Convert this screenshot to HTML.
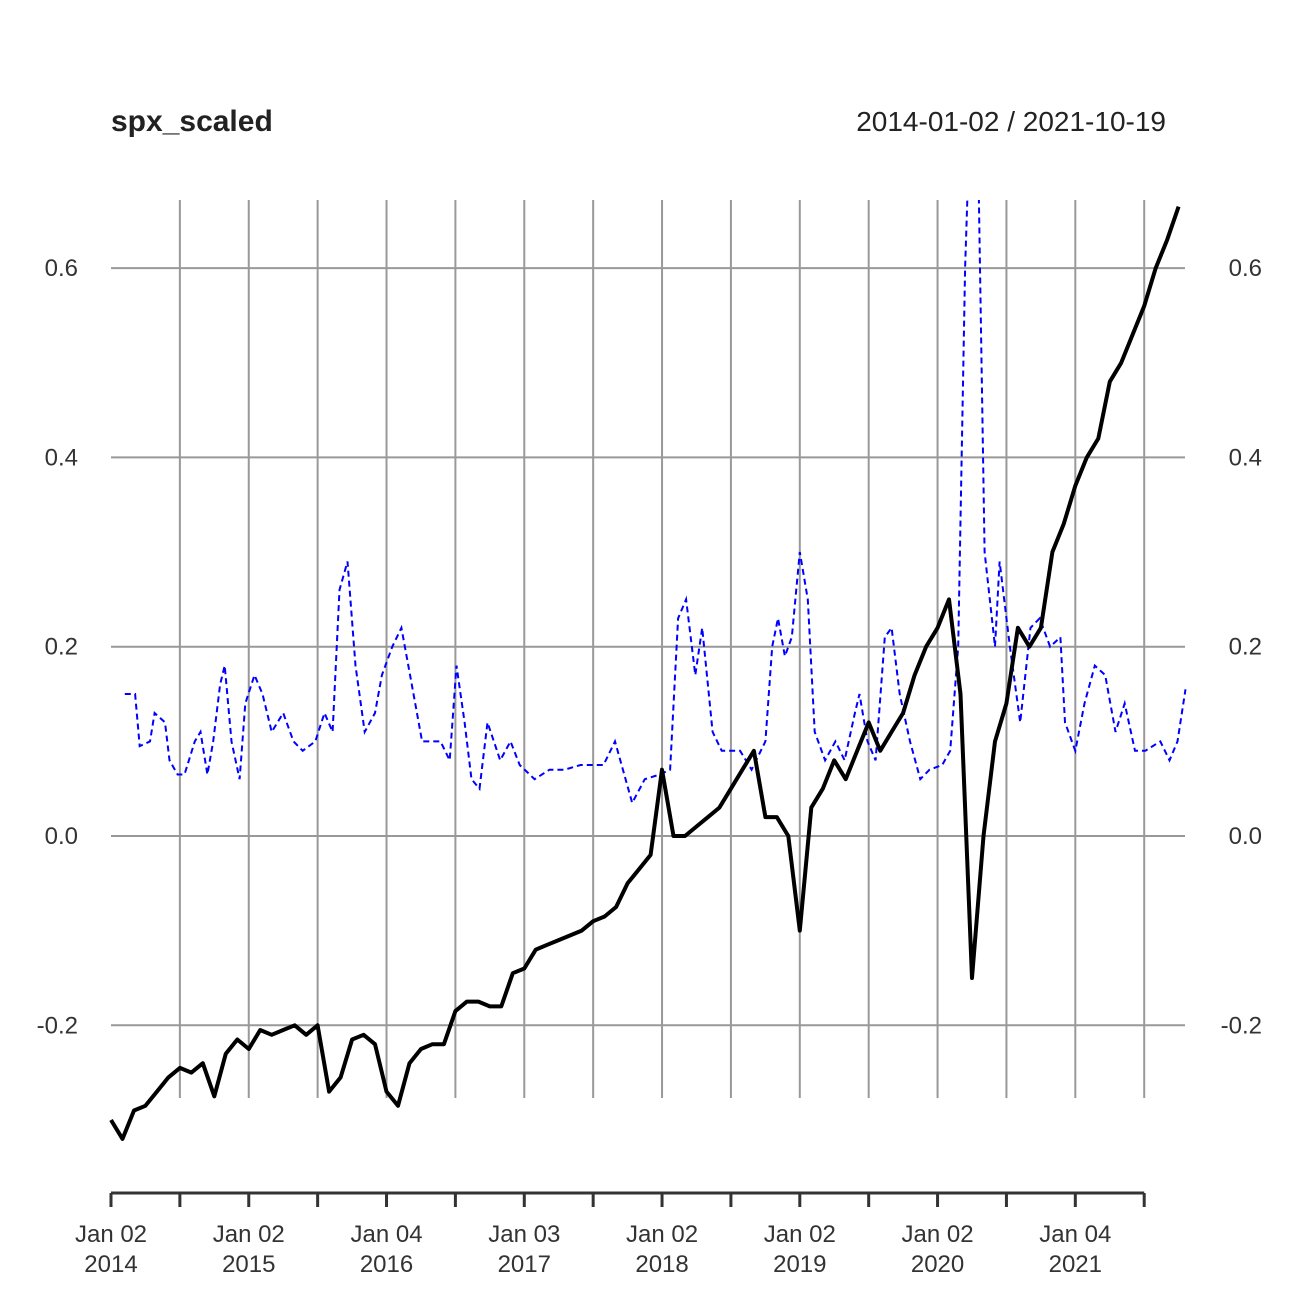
<!DOCTYPE html>
<html><head><meta charset="utf-8"><style>
html,body{margin:0;padding:0;background:#fff;}
svg{display:block;font-family:"Liberation Sans",Arial,sans-serif;}
</style></head><body>
<svg id="chart" width="1296" height="1296" viewBox="0 0 1296 1296" xmlns="http://www.w3.org/2000/svg">
<defs><clipPath id="plotclip"><rect x="100" y="200" width="1100" height="1000"/></clipPath></defs>
<text x="111" y="131" font-size="30" font-weight="bold" fill="#222">spx_scaled</text>
<text x="1166" y="131" font-size="28" fill="#222" text-anchor="end">2014-01-02 / 2021-10-19</text>
<g id="grid"></g>
<g id="axes"></g>
<g id="series" clip-path="url(#plotclip)"></g>
</svg>
<script>
const yTicks=[-0.2,0.0,0.2,0.4,0.6];
const yTickLabels=["-0.2","0.0","0.2","0.4","0.6"];
const xMajorMonths=[0,12,24,36,48,60,72,84];
const xMajorLabels1=["Jan 02","Jan 02","Jan 04","Jan 03","Jan 02","Jan 02","Jan 02","Jan 04"];
const xMajorLabels2=["2014","2015","2016","2017","2018","2019","2020","2021"];
const xMinorMonths=[6,18,30,42,54,66,78,90];
const spxValues=[-0.30,-0.32,-0.29,-0.285,-0.27,-0.255,-0.245,-0.25,-0.24,-0.275,-0.23,-0.215,
-0.225,-0.205,-0.21,-0.205,-0.2,-0.21,-0.2,-0.27,-0.255,-0.215,-0.21,-0.22,
-0.27,-0.285,-0.24,-0.225,-0.22,-0.22,-0.185,-0.175,-0.175,-0.18,-0.18,-0.145,
-0.14,-0.12,-0.115,-0.11,-0.105,-0.1,-0.09,-0.085,-0.075,-0.05,-0.035,-0.02,
0.07,0.0,0.0,0.01,0.02,0.03,0.05,0.07,0.09,0.02,0.02,0.0,
-0.1,0.03,0.05,0.08,0.06,0.09,0.12,0.09,0.11,0.13,0.17,0.2,
0.22,0.25,0.15,-0.15,0.0,0.1,0.14,0.22,0.2,0.22,0.3,0.33,
0.37,0.4,0.42,0.48,0.5,0.53,0.56,0.6,0.63,0.665];
const volMonths=[1.2,2.1,2.5,3.4,3.8,4.7,5.1,5.8,6.4,7.3,7.8,8.4,8.9,9.5,9.9,10.5,11.2,11.7,12.5,13.2,14.0,15.0,15.9,16.7,17.8,18.6,19.3,19.9,20.6,21.3,22.1,23.0,23.6,24.5,25.3,26.2,27.1,28.7,29.5,30.1,30.8,31.4,32.1,32.8,33.9,34.8,35.6,36.9,38.2,39.5,40.9,42.2,42.9,43.9,45.4,46.5,47.8,48.7,49.4,50.1,50.9,51.5,52.4,53.2,54.8,55.8,57.0,57.6,58.1,58.7,59.3,60.0,60.7,61.3,62.2,63.1,63.9,64.8,65.2,65.9,66.6,67.4,68.0,68.7,69.6,70.5,71.3,72.4,73.1,73.8,74.4,74.8,75.5,76.1,77.0,77.4,78.3,79.2,80.1,80.9,81.8,82.7,83.1,84.0,84.8,85.7,86.6,87.5,88.3,89.2,90.1,91.4,92.2,92.9,93.6];
const volValues=[0.15,0.15,0.095,0.1,0.13,0.12,0.08,0.065,0.065,0.1,0.11,0.065,0.1,0.16,0.18,0.1,0.06,0.14,0.17,0.15,0.11,0.13,0.1,0.09,0.1,0.13,0.11,0.26,0.29,0.18,0.11,0.13,0.17,0.2,0.22,0.16,0.1,0.1,0.08,0.18,0.12,0.06,0.05,0.12,0.08,0.1,0.075,0.06,0.07,0.07,0.075,0.075,0.075,0.1,0.035,0.06,0.065,0.07,0.23,0.25,0.17,0.22,0.11,0.09,0.09,0.07,0.1,0.2,0.23,0.19,0.21,0.3,0.25,0.11,0.08,0.1,0.08,0.13,0.15,0.1,0.08,0.21,0.22,0.15,0.1,0.06,0.07,0.075,0.09,0.2,0.6,0.75,0.75,0.3,0.2,0.29,0.2,0.12,0.22,0.23,0.2,0.21,0.12,0.09,0.14,0.18,0.17,0.11,0.14,0.09,0.09,0.1,0.08,0.1,0.155];

const NS="http://www.w3.org/2000/svg";
const xScale=m=>111+m*11.48;
const yScale=v=>836-v*946.5;
const grid=document.getElementById('grid'),axes=document.getElementById('axes'),series=document.getElementById('series');
function mk(tag,attrs,parent){const e=document.createElementNS(NS,tag);for(const k in attrs)e.setAttribute(k,attrs[k]);parent.appendChild(e);return e;}

yTicks.forEach((v,i)=>{
  const l=mk('line',{x1:111,x2:1185,y1:yScale(v),y2:yScale(v),stroke:'#999','stroke-width':2},grid);
  
  
  const t1=mk('text',{x:78,y:yScale(v)+8,'font-size':24,fill:'#333','text-anchor':'end'},axes);
  t1.textContent=yTickLabels[i];
  
  
  const t2=mk('text',{x:1262,y:yScale(v)+8,'font-size':24,fill:'#333','text-anchor':'end'},axes);
  t2.textContent=yTickLabels[i];
  
  
});
xMajorMonths.concat(xMinorMonths).forEach(m=>{
  if(m===0)return;
  const l=mk('line',{x1:xScale(m),x2:xScale(m),y1:200,y2:1098,stroke:'#999','stroke-width':2},grid);
  
  
});
const ax=mk('line',{x1:111,x2:xScale(90),y1:1193,y2:1193,stroke:'#333','stroke-width':3},axes);


xMajorMonths.concat(xMinorMonths).forEach(m=>{
  const t=mk('line',{x1:xScale(m),x2:xScale(m),y1:1193,y2:1207,stroke:'#333','stroke-width':3},axes);
  
  
});
xMajorMonths.forEach((m,i)=>{
  const a=mk('text',{x:xScale(m),y:1242,'font-size':24,fill:'#333','text-anchor':'middle'},axes);
  a.textContent=xMajorLabels1[i];
  
  
  const b=mk('text',{x:xScale(m),y:1272,'font-size':24,fill:'#333','text-anchor':'middle'},axes);
  b.textContent=xMajorLabels2[i];
  
  
});
const volPts=volMonths.map((m,i)=>xScale(m).toFixed(1)+','+yScale(volValues[i]).toFixed(1)).join(' ');
const vl=mk('polyline',{points:volPts,fill:'none',stroke:'#0000ff','stroke-width':2,'stroke-dasharray':'6,4'},series);


const spxPts=spxValues.map((v,i)=>xScale(i).toFixed(1)+','+yScale(v).toFixed(1)).join(' ');
const sl=mk('polyline',{points:spxPts,fill:'none',stroke:'#000','stroke-width':4,'stroke-linejoin':'round'},series);


</script>
</body></html>
